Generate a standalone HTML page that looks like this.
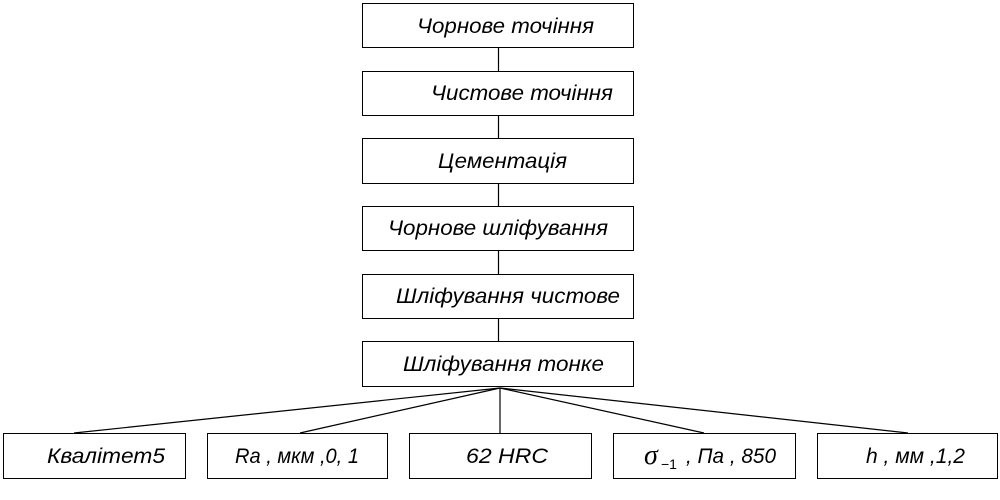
<!DOCTYPE html>
<html><head><meta charset="utf-8"><style>
html,body{margin:0;padding:0;background:#fff;width:1000px;height:500px;overflow:hidden}
text{font-family:"Liberation Sans",sans-serif;font-style:italic;font-size:21px;fill:#000}
</style></head><body>
<svg width="1000" height="500" xmlns="http://www.w3.org/2000/svg">
<g fill="#fff" stroke="#000" stroke-width="1">
<rect x="362.5" y="3.5" width="271" height="44"/>
<rect x="362.5" y="71.5" width="271" height="44"/>
<rect x="362.5" y="138.5" width="271" height="45"/>
<rect x="362.5" y="206.5" width="271" height="44"/>
<rect x="362.5" y="274.5" width="271" height="44"/>
<rect x="362.5" y="341.5" width="271" height="45"/>
<rect x="3.5" y="433.5" width="182" height="45"/>
<rect x="207.5" y="433.5" width="180" height="45"/>
<rect x="409.5" y="433.5" width="182" height="45"/>
<rect x="613.5" y="433.5" width="182" height="45"/>
<rect x="817.5" y="433.5" width="180" height="45"/>
</g>
<g stroke="#000" stroke-width="1.2">
<line x1="498.5" y1="48" x2="498.5" y2="71"/>
<line x1="498.5" y1="116" x2="498.5" y2="138"/>
<line x1="498.5" y1="184" x2="498.5" y2="206"/>
<line x1="498.5" y1="251" x2="498.5" y2="274"/>
<line x1="498.5" y1="319" x2="498.5" y2="341"/>
<line x1="500" y1="388" x2="74" y2="433"/>
<line x1="500" y1="388" x2="300" y2="433"/>
<line x1="500" y1="388" x2="500" y2="433"/>
<line x1="500" y1="388" x2="704" y2="433"/>
<line x1="500" y1="388" x2="908" y2="433"/>
</g>
<text x="417" y="33" textLength="177" lengthAdjust="spacingAndGlyphs">Чорнове точіння</text>
<text x="431" y="100" textLength="182" lengthAdjust="spacingAndGlyphs">Чистове точіння</text>
<text x="438" y="168" textLength="129" lengthAdjust="spacingAndGlyphs">Цементація</text>
<text x="388" y="235" textLength="220" lengthAdjust="spacingAndGlyphs">Чорнове шліфування</text>
<text x="396" y="303" textLength="224" lengthAdjust="spacingAndGlyphs">Шліфування чистове</text>
<text x="403" y="371" textLength="201" lengthAdjust="spacingAndGlyphs">Шліфування тонке</text>
<text x="47" y="463" textLength="118" lengthAdjust="spacingAndGlyphs">Квалітет5</text>
<text x="235" y="463" textLength="124" lengthAdjust="spacingAndGlyphs">Ra , мкм ,0, 1</text>
<text x="466" y="463" textLength="82" lengthAdjust="spacingAndGlyphs">62  HRC</text>
<text x="644" y="464" style="font-family:'Liberation Serif',serif;font-size:28px">σ</text>
<text x="661" y="469" style="font-size:14px;font-style:normal">−1</text>
<text x="686" y="463" textLength="90" lengthAdjust="spacingAndGlyphs">, Па , 850</text>
<text x="866" y="463" textLength="99" lengthAdjust="spacingAndGlyphs">h , мм ,1,2</text>
</svg>
</body></html>
